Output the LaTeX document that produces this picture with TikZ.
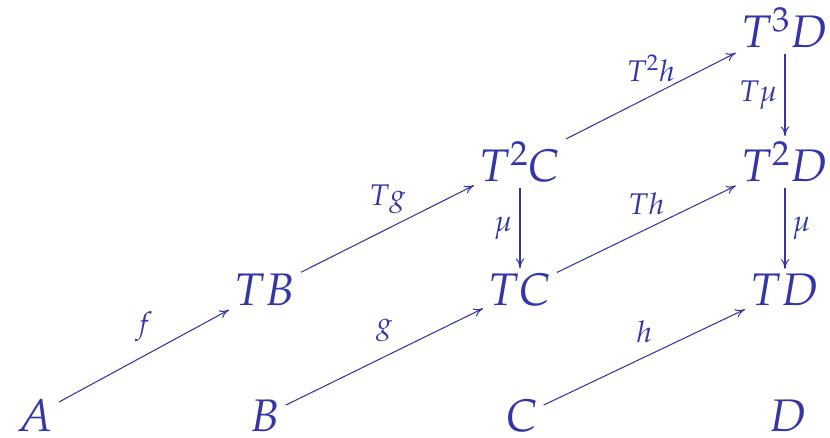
\documentclass[tikz,border=0pt]{standalone}
\usepackage{mathpazo}
\usetikzlibrary{arrows.meta}
\definecolor{ink}{HTML}{3535A8}

\begin{document}
\begin{tikzpicture}[x=0.02cm, y=-0.02cm, color=ink,
    every node/.style={font=\fontsize{26}{30}\selectfont, inner sep=3pt},
    lbl/.style={font=\fontsize{17}{20}\selectfont, inner sep=1pt},
    map/.style={-{To[length=5.5pt,width=5pt]}, line width=.6pt}]
    \useasboundingbox (0,0) rectangle (830,438);
    % bottom row
    \node[anchor=base] (a) at (35,431) {$A$};
    \node[anchor=base] (b) at (265,431) {$B$};
    \node[anchor=base] (c) at (522,431) {$C$};
    \node[anchor=base] (d) at (788,431) {$D$};
    % T row
    \node[anchor=base] (tb) at (265,306) {$TB$};
    \node[anchor=base] (tc) at (520,306) {$TC$};
    \node[anchor=base] (td) at (785,306) {$TD$};
    % T^2 row
    \node[anchor=base] (ttc) at (520,182) {$T^2C$};
    \node[anchor=base] (ttd) at (785,182) {$T^2D$};
    % T^3 row
    \node[anchor=base] (tttd) at (785,48) {$T^3D$};
    % diagonal maps
    \draw[map] (a) -- node[lbl,above=7pt] {$f$} (tb);
    \draw[map] (b) -- node[lbl,above=7pt] {$g$} (tc);
    \draw[map] (c) -- node[lbl,above=7pt] {$h$} (td);
    \draw[map] (tb) -- node[lbl,above=7pt] {$Tg$} (ttc);
    \draw[map] (tc) -- node[lbl,above=7pt] {$Th$} (ttd);
    \draw[map] (ttc) -- node[lbl,above=7pt] {$T^2h$} (tttd);
    % vertical maps
    \draw[map] (ttc) -- node[lbl,left=3pt] {$\mu$} (tc);
    \draw[map] (tttd) -- node[lbl,left=3pt] {$T\mu$} (ttd);
    \draw[map] (ttd) -- node[lbl,right=3pt] {$\mu$} (td);
  \end{tikzpicture}
\end{document}
